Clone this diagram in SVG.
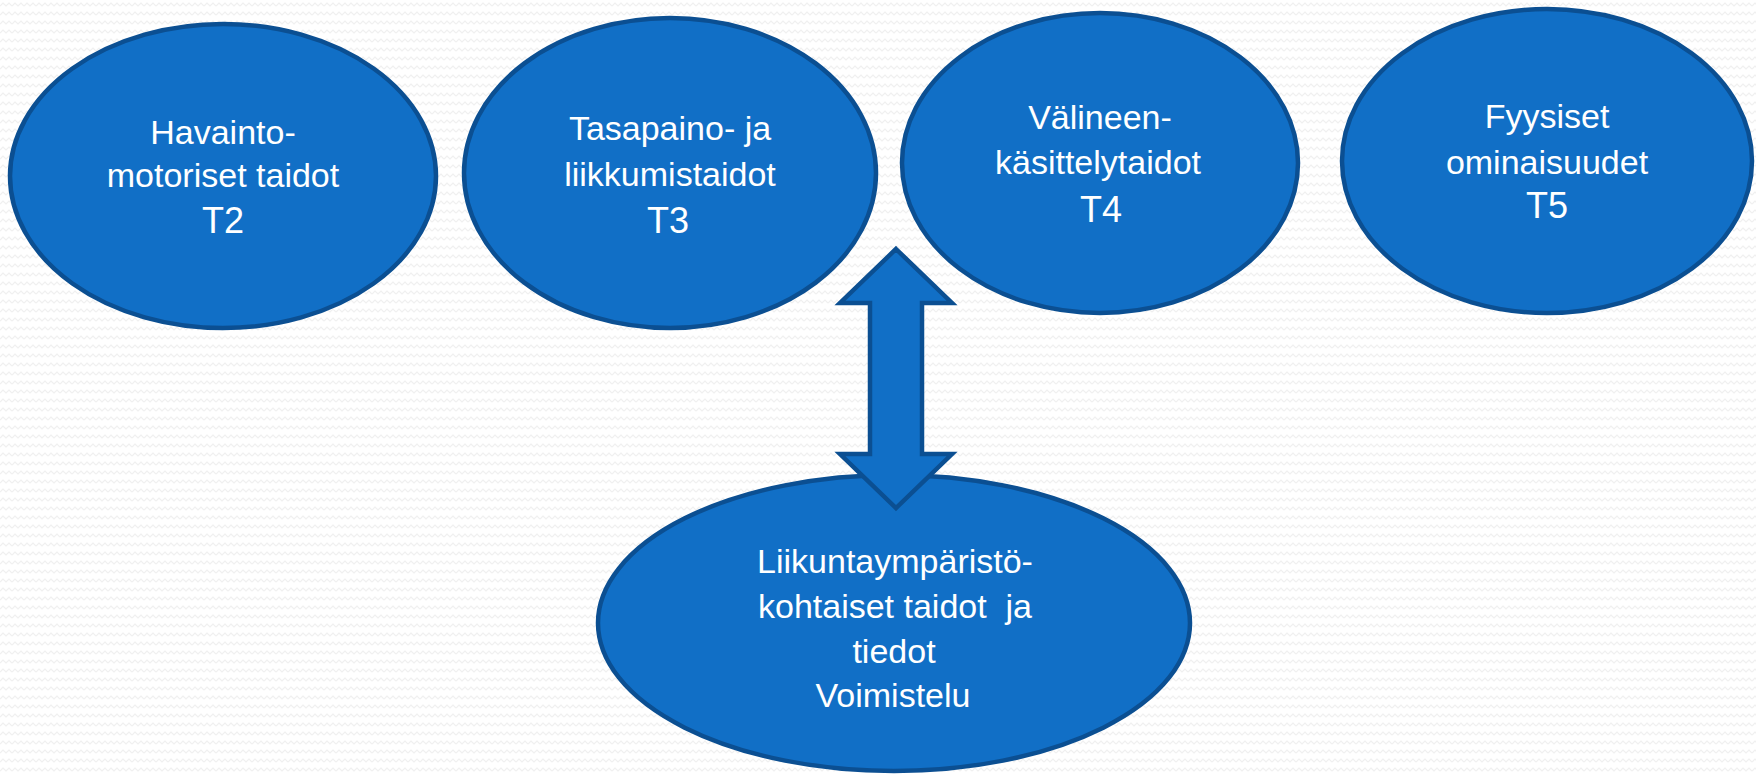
<svg xmlns="http://www.w3.org/2000/svg" width="1756" height="775" viewBox="0 0 1756 775">
  <defs>
    <pattern id="bg" width="12" height="9" patternUnits="userSpaceOnUse">
      <rect width="12" height="9" fill="#ffffff"/>
      <polyline points="0,6 3,3 6,6 9,3 12,6" fill="none" stroke="#f0f0f0" stroke-width="1.2"/>
    </pattern>
  </defs>
  <style>
    .node { fill: #116fc6; stroke: #0b4f92; stroke-width: 4.5; }
    .lbl { font-family: "Liberation Sans", Arial, sans-serif; font-size: 34px; fill: #ffffff; text-anchor: middle; }
    .big { font-size: 36px; }
    .arrow { fill: #116fc6; stroke: #0b4f92; stroke-width: 4.5; stroke-linejoin: miter; }
  </style>
  <rect width="1756" height="775" fill="url(#bg)"/>

  <g id="node-t2">
    <ellipse class="node" cx="223" cy="176" rx="213" ry="152"/>
    <text class="lbl" x="223" y="144">Havainto-</text>
    <text class="lbl" x="223" y="187">motoriset taidot</text>
    <text class="lbl big" x="223" y="233">T2</text>
  </g>
  <g id="node-t3">
    <ellipse class="node" cx="670" cy="173" rx="206" ry="155"/>
    <text class="lbl" x="670" y="140">Tasapaino- ja</text>
    <text class="lbl" x="670" y="186">liikkumistaidot</text>
    <text class="lbl big" x="668" y="233">T3</text>
  </g>
  <g id="node-t4">
    <ellipse class="node" cx="1100" cy="163" rx="198" ry="150"/>
    <text class="lbl" x="1100" y="129">Välineen-</text>
    <text class="lbl" x="1098" y="174">käsittelytaidot</text>
    <text class="lbl big" x="1101" y="222">T4</text>
  </g>
  <g id="node-t5">
    <ellipse class="node" cx="1547" cy="161" rx="205" ry="152"/>
    <text class="lbl" x="1547" y="128">Fyysiset</text>
    <text class="lbl" x="1547" y="174">ominaisuudet</text>
    <text class="lbl big" x="1547" y="218">T5</text>
  </g>
  <g id="node-voimistelu">
    <ellipse class="node" cx="894" cy="623" rx="296" ry="148"/>
    <text class="lbl" x="895" y="573">Liikuntaympäristö-</text>
    <text class="lbl" x="895" y="618" xml:space="preserve">kohtaiset taidot  ja</text>
    <text class="lbl" x="894" y="663">tiedot</text>
    <text class="lbl" x="893" y="707">Voimistelu</text>
  </g>

  <g id="connectors">
    <polygon class="arrow" points="896,249 952,303 922,303 922,454 952,454 896,508 840,454 870,454 870,303 840,303"/>
  </g>
</svg>
